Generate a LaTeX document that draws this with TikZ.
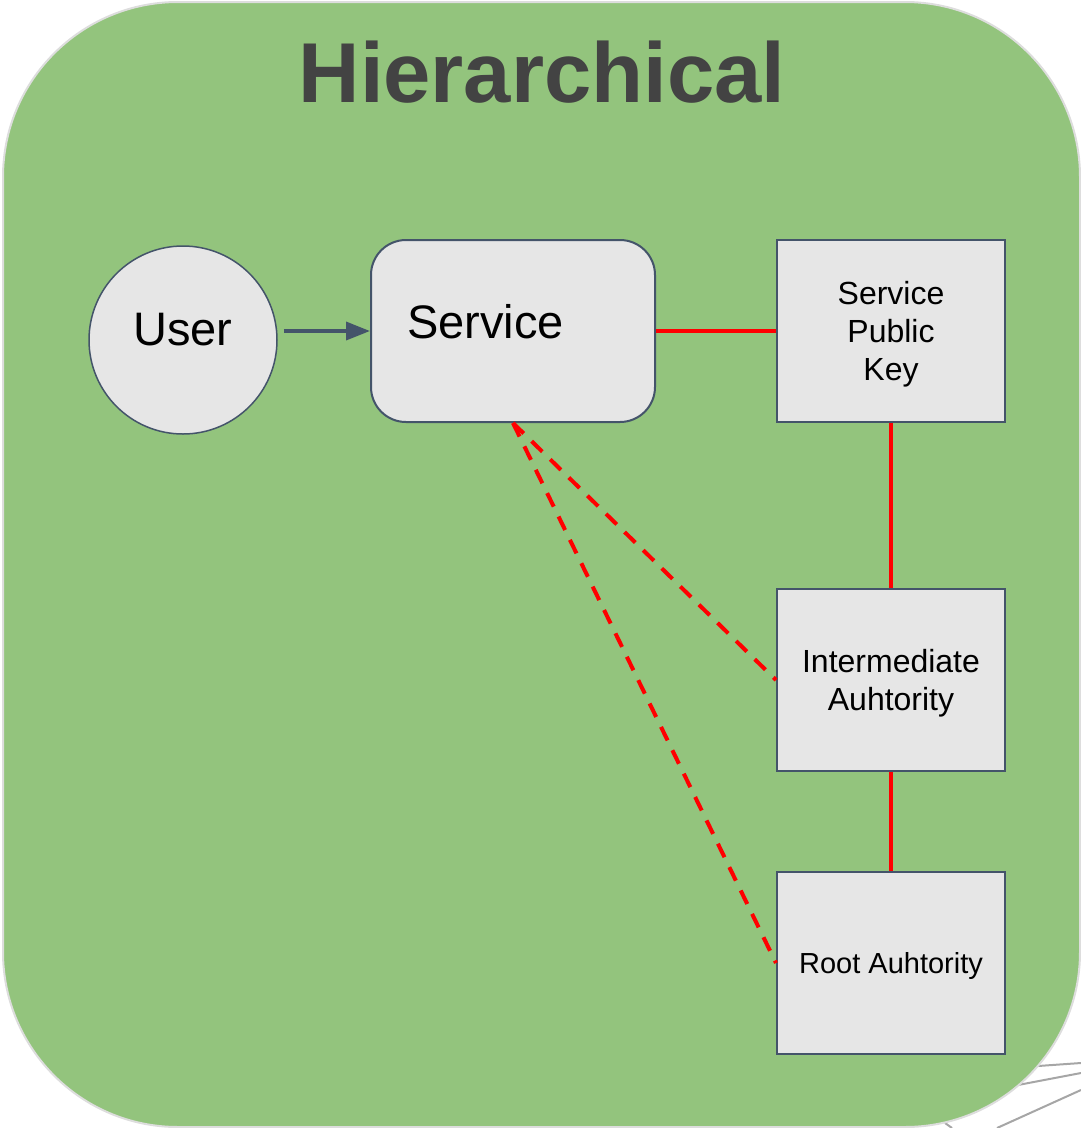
\documentclass[tikz,border=0pt]{standalone}
\usepackage{fontspec}
\setmainfont{Liberation Sans}
\usetikzlibrary{arrows.meta,positioning}

\definecolor{panelgreen}{HTML}{93C47D}
\definecolor{boxgray}{HTML}{E6E6E6}
\definecolor{slate}{HTML}{44546A}
\definecolor{titlegray}{HTML}{434343}
\definecolor{rimgray}{HTML}{DDDDDD}

\begin{document}
\begin{tikzpicture}[x=1pt,y=-1pt,
  user node/.style={circle,draw=slate,line width=1.5pt,fill=boxgray,minimum size=188pt,inner sep=0pt},
  service node/.style={rectangle,rounded corners=35pt,draw=slate,line width=2pt,fill=boxgray,minimum width=284pt,minimum height=182pt,inner sep=0pt},
  box node/.style={rectangle,draw=slate,line width=2pt,fill=boxgray,minimum width=228pt,minimum height=182pt,inner sep=0pt,text depth=0pt,align=center,font=\fontsize{32}{38}\selectfont},
  big label/.style={inner sep=0pt,font=\fontsize{47}{56}\selectfont},
  title node/.style={inner sep=0pt,text=titlegray,font=\fontsize{85}{100}\selectfont\bfseries},
  key link/.style={red,line width=4pt},
  trust link/.style={red,line width=4pt,dash pattern=on 15pt off 11pt}]

  \useasboundingbox (0,0) rectangle (1081,1128);

  % stray lines of the next slide
  \draw[gray!70,line width=2pt] (1038,1066) -- (1081,1063);
  \draw[gray!70,line width=2pt] (1018,1085) -- (1081,1073);
  \draw[gray!70,line width=2pt] (997,1128) -- (1081,1090);
  \draw[gray!70,line width=2pt] (945,1123) -- (952,1128);

  \draw[rimgray,line width=2pt,fill=panelgreen,rounded corners=175pt] (3,2) rectangle (1080,1127);

  \node[title node,anchor=base] (title) at (542,102) {Hierarchical};

  \node[user node] (user) at (183,340) {};
  \node[big label,anchor=base] (usertext) at (183,345) {User};
  \node[service node] (service) at (513,331) {};
  \node[big label,anchor=base west] (servicetext) at (407,338) {Service};

  \node[box node] (key) at (891,331) {Service\\Public\\Key};
  \node[box node] (inter) at (891,680) {Intermediate\\Auhtority};
  \node[box node,font=\fontsize{29}{34}\selectfont] (root) at (891,963) {Root Auhtority};

  \draw[-{Triangle[length=24pt,width=18pt]},slate,line width=3.5pt,shorten <=6pt]
    (user.east |- service.west) -- (service.west);

  \draw[key link] (service) -- (key);
  \draw[key link] (key) -- (inter);
  \draw[key link] (inter) -- (root);

  \draw[trust link] (service.south) -- (inter.west);
  \draw[trust link] (service.south) -- (root.west);
\end{tikzpicture}
\end{document}
